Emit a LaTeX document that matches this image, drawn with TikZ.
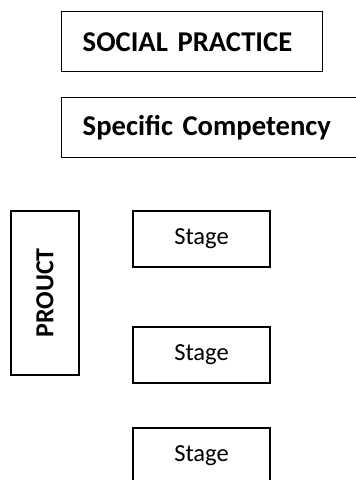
\documentclass[tikz,border=0pt]{standalone}
\usepackage{fontspec}
\setmainfont{Carlito}

\tikzset{
  headbox/.style={draw, line width=1.1pt, anchor=north west, minimum height=45pt,
    inner xsep=15.75pt, align=left, font=\bfseries\fontsize{21.5}{25}\selectfont},
  prodbox/.style={draw, line width=1.1pt, rotate=90, minimum width=123pt, minimum height=51pt,
    font=\bfseries\fontsize{19.5}{23}\selectfont},
  stagebox/.style={draw, line width=1.1pt, minimum width=102.75pt, minimum height=42pt,
    font=\fontsize{18.4}{21}\selectfont}
}

\begin{document}
\begin{tikzpicture}[x=0.75pt,y=-0.75pt]
\useasboundingbox (0,0) rectangle (356,480);
\node[headbox, text width=164.25pt] (social) at (61,11) {SOCIAL PRACTICE};
\node[headbox, text width=194.25pt] (compet) at (61,97) {Specific Competency};
\node[prodbox] (product) at (45,293) {PROUCT};
\node[stagebox] (stagea) at (201.5,239) {Stage};
\node[stagebox] (stageb) at (201.5,355) {Stage};
\node[stagebox] (stagec) at (201.5,456) {Stage};
\end{tikzpicture}
\end{document}
